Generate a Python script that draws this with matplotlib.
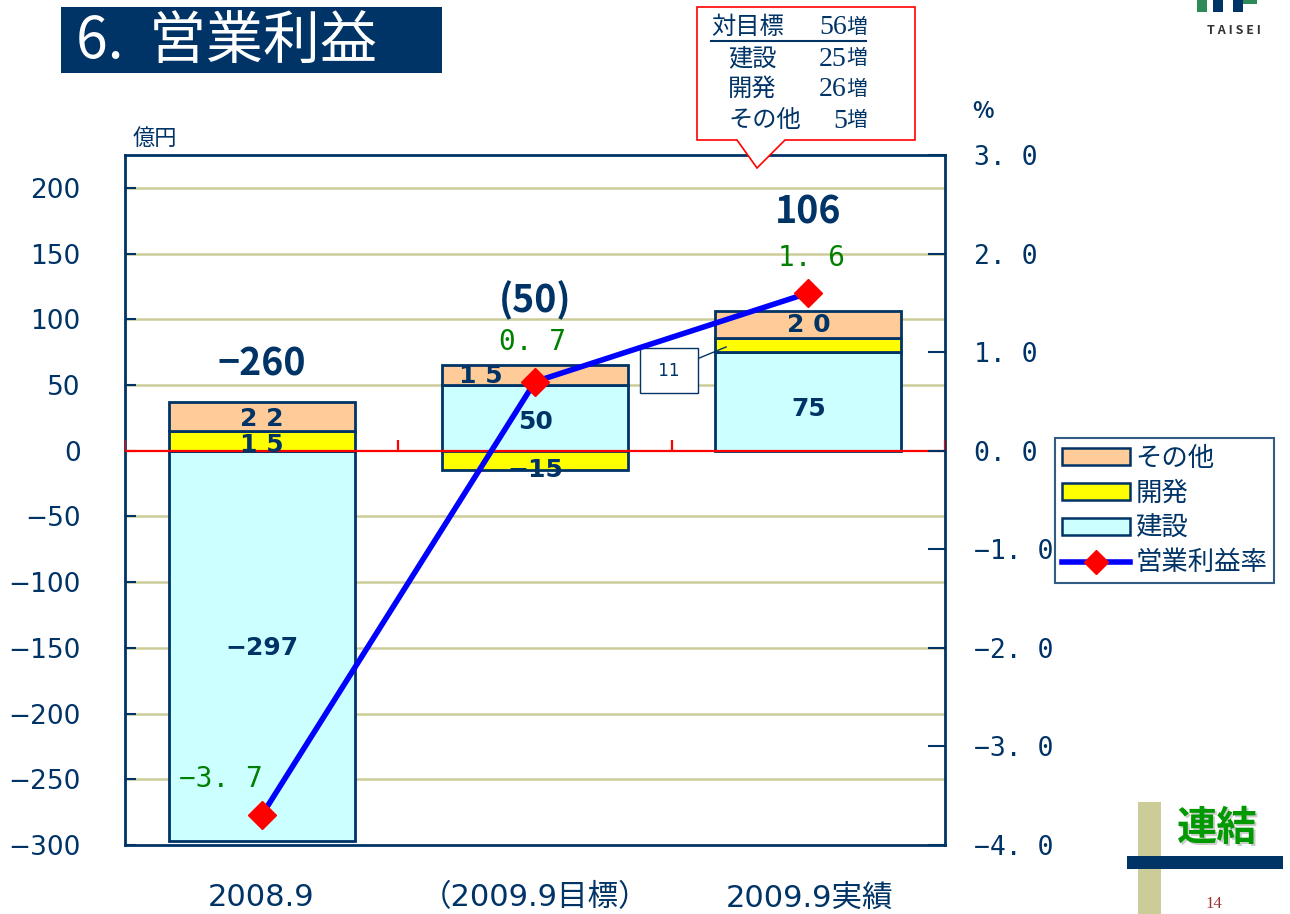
import matplotlib
matplotlib.use("Agg")
import matplotlib.pyplot as plt
from matplotlib.patches import Rectangle, Polygon, Patch
from matplotlib.lines import Line2D
import numpy as np

plt.rcParams['font.family'] = ['Noto Sans CJK JP', 'DejaVu Sans']

# data
categories = ['2008.9', '（2009.9目標）', '2009.9実績']
kensetsu = [-297, 50, 75]
kaihatsu = [15, -15, 11]
sonota = [22, 15, 20]
totals = ['−260', '(50)', '106']
margin_rate = [-3.7, 0.7, 1.6]
left_ticks = [200, 150, 100, 50, 0, -50, -100, -150, -200, -250, -300]
right_ticks = [3.0, 2.0, 1.0, 0.0, -1.0, -2.0, -3.0, -4.0]
callout_labels = ['対目標', '建設', '開発', 'その他']
callout_values = ['56', '25', '26', '5']

NAVY = '#003366'
W, H = 1290, 914
NUM_FONT = ['DejaVu Sans', 'Noto Sans CJK JP']
MONO_FONT = ['DejaVu Sans Mono']


def fx(x):
    return x / W


def fy(y):
    return 1 - y / H


def pct(v):
    return ('%.1f' % v).replace('.', '. ').replace('-', '−')


fig = plt.figure(figsize=(12.9, 9.14), dpi=100)
ax = fig.add_axes([fx(125), fy(845), (945 - 125) / W, (845 - 155) / H])
ax2 = ax.twinx()

x = np.arange(len(categories))
bw = 0.68

# stacked bars: positives stack up from 0, negatives go down from 0
pos_base = np.zeros(3)
neg_base = np.zeros(3)
for vals, col in [(kensetsu, '#CCFFFF'), (kaihatsu, '#FFFF00'), (sonota, '#FFCC99')]:
    vals = np.array(vals, dtype=float)
    b = np.where(vals >= 0, pos_base, neg_base)
    ax.bar(x, vals, bottom=b, width=bw, color=col, edgecolor=NAVY, linewidth=2, zorder=3)
    pos_base = pos_base + np.where(vals >= 0, vals, 0)
    neg_base = neg_base + np.where(vals < 0, vals, 0)

ax.set_xlim(-0.5, 2.5)
ax.set_ylim(-300, 225)
ax.set_yticks(left_ticks)
ax.set_yticklabels([str(v).replace('-', '−') for v in left_ticks], family=NUM_FONT)
ax.set_xticks([])
for v in left_ticks:
    if v not in (0, -300):
        ax.axhline(v, color='#CCCC99', lw=1.8, zorder=1)
ax.axhline(0, color='red', lw=1.6, zorder=4)
ax.vlines([-0.5, 0.5, 1.5, 2.5], 0, 8, color='red', lw=1.6, zorder=4)
ax.tick_params(axis='y', direction='in', length=8, width=1.5, color=NAVY,
               labelsize=19, labelcolor=NAVY, pad=32)
for s in ax.spines.values():
    s.set_color(NAVY)
    s.set_linewidth(2)

# segment labels
lab_kw = dict(ha='center', va='center', color=NAVY, fontsize=18, fontweight='bold',
              zorder=6, family=NUM_FONT)
ax.text(0, -150, '−297', **lab_kw)
ax.text(0, 4, '1 5', **lab_kw)
ax.text(0, 24, '2 2', **lab_kw)
ax.text(1, 22, '50', **lab_kw)
ax.text(1, -15, '−15', **lab_kw)
ax.text(0.80, 57, '1 5', **lab_kw)
ax.text(2, 96, '2 0', **lab_kw)
ax.text(2, 32, '75', **lab_kw)
ax.annotate(' 11 ', xy=(1.70, 79), xytext=(1.49, 61), fontsize=12, color=NAVY,
            ha='center', va='center', zorder=7, family=NUM_FONT,
            bbox=dict(boxstyle='square,pad=0.8', fc='white', ec=NAVY, lw=1),
            arrowprops=dict(arrowstyle='-', color=NAVY, lw=1, shrinkA=0, shrinkB=0))

# totals
tot_y = [66, 114, 182]
for i, t in enumerate(totals):
    ax.text(x[i], tot_y[i], t, ha='center', va='center', color=NAVY, fontsize=27, fontweight='bold')

# margin line
ax2.plot(x, margin_rate, color='#0000FF', lw=4, marker='D', markersize=14,
         markerfacecolor='red', markeredgecolor='red', zorder=8)
ax2.set_ylim(-4, 3)
ax2.set_yticks(right_ticks)
ax2.set_yticklabels([pct(v) for v in right_ticks], family=MONO_FONT)
ax2.tick_params(axis='y', direction='in', length=12, width=1.5, color=NAVY,
                labelsize=19, labelcolor=NAVY, pad=21)
for s in ax2.spines.values():
    s.set_visible(False)
rate_pos = [(-0.15, -3.33), (0.99, 1.10), (2.01, 1.96)]
for (px, py), v in zip(rate_pos, margin_rate):
    ax2.text(px, py, pct(v), ha='center', va='center', color='#008000', fontsize=20,
             family=MONO_FONT)

# category labels
for i, c in enumerate(categories):
    fig.text(fx(261 + 274 * i), fy(898), c, ha='center', va='center', color=NAVY,
             fontsize=22, family=NUM_FONT)

fig.text(fx(133), fy(138), '億円', ha='left', va='center', color=NAVY, fontsize=16)
fig.text(fx(972), fy(112), '%', ha='left', va='center', color=NAVY, fontsize=16, fontweight='bold')

# title
fig.patches.append(Rectangle((fx(61), fy(73)), (442 - 61) / W, (73 - 7) / H,
                             transform=fig.transFigure, fc=NAVY, ec='none'))
fig.text(fx(76), fy(42), '6.  営業利益', ha='left', va='center', color='white', fontsize=41)

# callout
pts = [(697, 7), (915, 7), (915, 140), (785, 140), (757, 168), (737, 140), (697, 140)]
fig.patches.append(Polygon([(fx(a), fy(b)) for a, b in pts], closed=True,
                           transform=fig.transFigure, fc='white', ec='red', lw=1.2))
for i, (lab, val) in enumerate(zip(callout_labels, callout_values)):
    yy = 27 + 31 * i
    fig.text(fx(711 if i == 0 else 728), fy(yy), lab, ha='left', va='center', color=NAVY, fontsize=17.5)
    fig.text(fx(847), fy(yy + 1), val, ha='right', va='center', color=NAVY,
             fontsize=20, family=['Liberation Serif'])
    fig.text(fx(846), fy(yy), '増', ha='left', va='center', color=NAVY, fontsize=15)
fig.add_artist(Line2D([fx(711), fx(866)], [fy(41), fy(41)], color=NAVY, lw=1.5))

# legend
handles = [Patch(fc='#FFCC99', ec=NAVY, lw=1.8), Patch(fc='#FFFF00', ec=NAVY, lw=1.8),
           Patch(fc='#CCFFFF', ec=NAVY, lw=1.8),
           Line2D([], [], color='#0000FF', lw=4, marker='D', markersize=12,
                  markerfacecolor='red', markeredgecolor='red')]
leg = fig.legend(handles, ['その他', '開発', '建設', '営業利益率'], loc='upper left',
                 bbox_to_anchor=(fx(1055), fy(438)), fontsize=19, frameon=True,
                 fancybox=False, borderpad=0.25, labelspacing=0.3, handlelength=2.6,
                 handleheight=0.6, handletextpad=0.2, borderaxespad=0)
leg.get_frame().set_edgecolor(NAVY)
leg.get_frame().set_linewidth(1.5)
for t in leg.get_texts():
    t.set_color(NAVY)

# logo fragment
fig.patches.append(Rectangle((fx(1197), fy(12)), 10 / W, 12 / H, transform=fig.transFigure, fc='#2E8B57'))
fig.patches.append(Rectangle((fx(1213), fy(12)), 10 / W, 12 / H, transform=fig.transFigure, fc=NAVY))
fig.patches.append(Rectangle((fx(1233), fy(12)), 10 / W, 12 / H, transform=fig.transFigure, fc=NAVY))
fig.patches.append(Rectangle((fx(1243), fy(4)), 14 / W, 4 / H, transform=fig.transFigure, fc='#2E8B57'))
fig.text(fx(1234), fy(31), 'T A I S E I', ha='center', va='center', color='#333333',
         fontsize=9, fontweight='bold')

# bottom right badge
fig.patches.append(Rectangle((fx(1138), fy(914)), 23 / W, (914 - 802) / H,
                             transform=fig.transFigure, fc='#CCCC99'))
fig.patches.append(Rectangle((fx(1127), fy(869)), (1283 - 1127) / W, 13 / H,
                             transform=fig.transFigure, fc=NAVY))
fig.text(fx(1219), fy(830), '連結', ha='center', va='center', color='#CCCCCC',
         fontsize=29, fontweight='bold')
fig.text(fx(1217), fy(828), '連結', ha='center', va='center', color='#009900',
         fontsize=29, fontweight='bold')
fig.text(fx(1214), fy(904), '14', ha='center', va='center', color='#993333',
         fontsize=12, family=['Liberation Serif'])

fig.savefig('out.png', dpi=100)
